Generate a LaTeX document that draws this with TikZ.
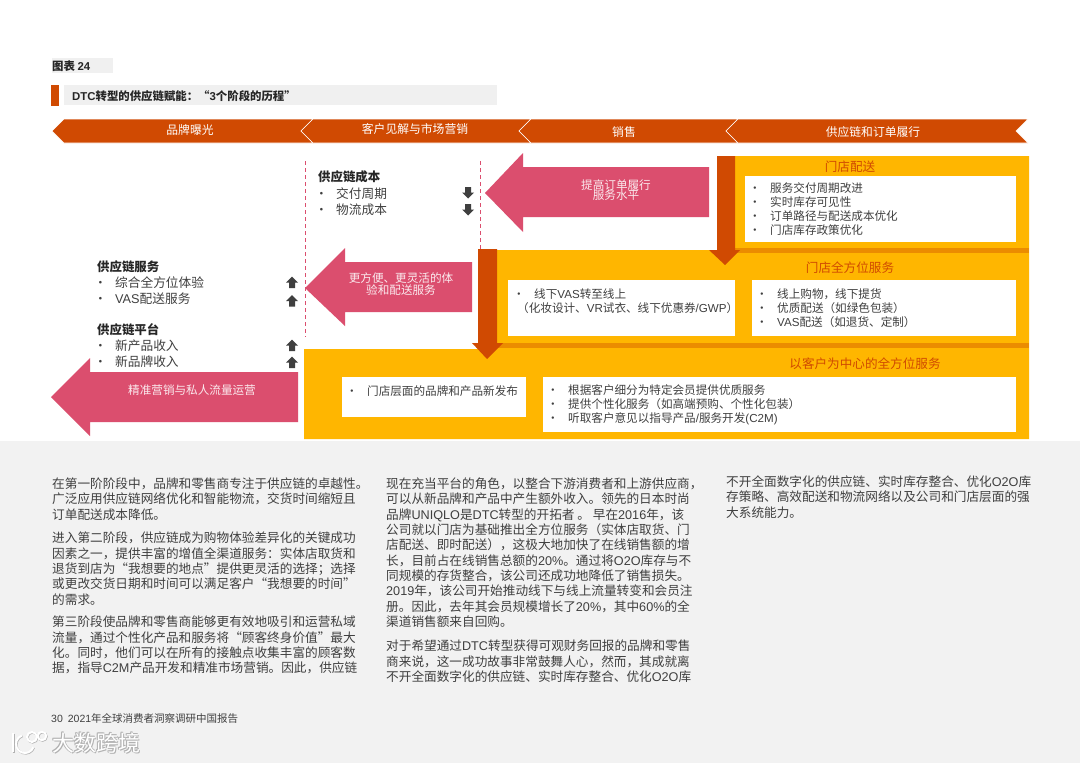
\documentclass[tikz,border=0pt]{standalone}
\usepackage{fontspec}
\setmainfont{Noto Sans CJK SC}
\newfontfamily\latfont{Liberation Sans}
\usepackage{xcolor}
\usetikzlibrary{positioning}
\definecolor{bandorange}{HTML}{D04A02}
\definecolor{stripeorange}{HTML}{EB8C00}
\definecolor{amber}{HTML}{FFB600}
\definecolor{rosefill}{HTML}{DB4E6E}
\definecolor{inkgray}{HTML}{3F3F3F}
\definecolor{pagegray}{HTML}{F2F2F2}
\definecolor{titlegray}{HTML}{F0F0F0}
\tikzset{
  bandtext/.style={text=white, inner sep=0pt, font=\fontsize{11.8}{14}\selectfont},
  rosetext/.style={text=white!88!rosefill, inner sep=0pt, align=center, font=\fontsize{11.6}{10.8}\selectfont},
  headtext/.style={text=bandorange, inner sep=0pt, font=\fontsize{12.6}{15}\selectfont},
  whitebox/.style={fill=white, draw=none},
  listtext/.style={anchor=west, inner sep=0pt, align=left, text=inkgray, font=\fontsize{11.6}{14}\selectfont},
  sidelist/.style={anchor=west, inner sep=0pt, align=left, text=inkgray, font=\fontsize{12.7}{16}\selectfont},
  sidehead/.style={anchor=west, inner sep=0pt, text=black!85, font=\fontsize{12.4}{15}\selectfont\bfseries},
  bodytext/.style={anchor=north west, inner sep=0pt, align=left, text=inkgray, font=\fontsize{12.65}{15.35}\selectfont},
  titletext/.style={anchor=west, inner sep=0pt, text=black!85, font=\fontsize{11.4}{13}\selectfont\bfseries},
  divider/.style={rosefill, dash pattern=on 4pt off 3pt, line width=1pt}
}
\newcommand{\itm}{\makebox[21pt][l]{\textbullet}}
\newcommand{\la}[1]{{\latfont #1}}
\begin{document}
\begin{tikzpicture}[x=1pt,y=-1pt]
  \useasboundingbox (0,0) rectangle (1080,763);
  \fill[white] (0,0) rectangle (1080,441);
  \fill[pagegray] (0,441) rectangle (1080,763);

  \fill[titlegray] (52,58) rectangle (113,73);
  \node[titletext] (figno) at (52,66) {图表 \la{24}};
  \fill[bandorange] (51,85) rectangle (59,106);
  \fill[titlegray] (64,85) rectangle (497,105);
  \node[titletext] (figtitle) at (72,96) {\la{DTC}转型的供应链赋能：“\la{3}个阶段的历程”};

  \foreach \xa/\xb in {52/301,301/519,519/726}
    \filldraw[fill=bandorange, draw=white, line width=0.6pt] (\xa,131) -- (\xa+12,119) -- (\xb+12,119) -- (\xb,131) -- (\xb+12,143) -- (\xa+12,143) -- cycle;
  \filldraw[fill=bandorange, draw=white, line width=0.6pt] (726,131) -- (738,119) -- (1028,119) -- (1016,131) -- (1028,143) -- (738,143) -- cycle;
  \node[bandtext] (stagea) at (190,130) {品牌曝光};
  \node[bandtext] (stageb) at (415,129) {客户见解与市场营销};
  \node[bandtext] (stagec) at (624,132) {销售};
  \node[bandtext] (staged) at (873,132) {供应链和订单履行};

  \coordinate (dashatop) at (305,161);
  \coordinate (dashabot) at (305,337);
  \coordinate (dashbtop) at (480,161);
  \coordinate (dashbbot) at (480,250);
  \draw[divider] (dashatop) -- (dashabot);
  \draw[divider] (dashbtop) -- (dashbbot);

  \fill[amber] (717,156) -- (1029,156) -- (1029,439) -- (304,439) -- (304,349) -- (478,349) -- (478,250) -- (717,250) -- cycle;
  \fill[stripeorange] (735,248) rectangle (1029,253);
  \fill[stripeorange] (497,343) rectangle (1029,348);
  \fill[bandorange] (717,156) -- (735,156) -- (735,250) -- (740,250) -- (725,265) -- (709,250) -- (717,250) -- cycle;
  \fill[bandorange] (478,249) -- (497,249) -- (497,343) -- (503,343) -- (487,359) -- (472,343) -- (478,343) -- cycle;

  \fill[rosefill] (485,193) -- (523,153) -- (523,167) -- (709,167) -- (709,217) -- (523,217) -- (523,232) -- cycle;
  \fill[rosefill] (305,288) -- (345,248) -- (345,262) -- (472,262) -- (472,312) -- (345,312) -- (345,326) -- cycle;
  \fill[rosefill] (51,397) -- (90,358) -- (90,372) -- (298,372) -- (298,422) -- (90,422) -- (90,436) -- cycle;
  \node[rosetext] (ordertext) at (616,190) {提高订单履行\\服务水平};
  \node[rosetext] (easetext) at (401,284) {更方便、更灵活的体\\验和配送服务};
  \node[rosetext] (traffictext) at (192,390) {精准营销与私人流量运营};

  \fill[whitebox] (745,176) rectangle (1016,242);
  \fill[whitebox] (508,280) rectangle (735,336);
  \fill[whitebox] (752,280) rectangle (1016,336);
  \fill[whitebox] (342,377) rectangle (526,417);
  \fill[whitebox] (543,377) rectangle (1016,432);

  \node[headtext] (storeship) at (850,167) {门店配送};
  \node[headtext] (storeall) at (850,268) {门店全方位服务};
  \node[headtext] (custall) at (865,364) {以客户为中心的全方位服务};

  \node[listtext] (listship) at (749,209.5) {\itm 服务交付周期改进\\\itm 实时库存可见性\\\itm 订单路径与配送成本优化\\\itm 门店库存政策优化};
  \node[listtext] (listvas) at (513,301) {\itm 线下\la{VAS}转至线上\\\hspace*{4pt}（化妆设计、\la{VR}试衣、线下优惠券\la{/GWP}）};
  \node[listtext] (listpick) at (756,308) {\itm 线上购物，线下提货\\\itm 优质配送（如绿色包装）\\\itm \la{VAS}配送（如退货、定制）};
  \node[listtext] (listlaunch) at (346,391) {\itm 门店层面的品牌和产品新发布};
  \node[listtext] (listcust) at (547,405) {\itm 根据客户细分为特定会员提供优质服务\\\itm 提供个性化服务（如高端预购、个性化包装）\\\itm 听取客户意见以指导产品\la{/}服务开发\la{(C2M)}};

  \node[sidehead] (costhead) at (318,177) {供应链成本};
  \node[sidelist] (costlist) at (315,202) {\itm 交付周期\\\itm 物流成本};
  \node[sidehead] (servhead) at (97,267) {供应链服务};
  \node[sidelist] (servlist) at (94,291) {\itm 综合全方位体验\\\itm \la{VAS}配送服务};
  \node[sidehead] (plathead) at (97,330) {供应链平台};
  \node[sidelist] (platlist) at (94,353.5) {\itm 新产品收入\\\itm 新品牌收入};

  \foreach \ypos in {192.5,209.5}
    \fill[inkgray] (468,\ypos+6) -- (474,\ypos) -- (471,\ypos) -- (471,\ypos-5.5) -- (465,\ypos-5.5) -- (465,\ypos) -- (462,\ypos) -- cycle;
  \foreach \ypos in {282.5,301,345.5,362.5}
    \fill[inkgray] (292,\ypos-6) -- (298,\ypos) -- (295,\ypos) -- (295,\ypos+5.5) -- (289,\ypos+5.5) -- (289,\ypos) -- (286,\ypos) -- cycle;

  \node[bodytext] (parta) at (52,477.5) {在第一阶阶段中，品牌和零售商专注于供应链的卓越性。\\广泛应用供应链网络优化和智能物流，交货时间缩短且\\订单配送成本降低。};
  \node[bodytext] (partb) at (52,532) {进入第二阶段，供应链成为购物体验差异化的关键成功\\因素之一，提供丰富的增值全渠道服务：实体店取货和\\退货到店为“我想要的地点”提供更灵活的选择；选择\\或更改交货日期和时间可以满足客户“我想要的时间”\\的需求。};
  \node[bodytext] (partc) at (52,616) {第三阶段使品牌和零售商能够更有效地吸引和运营私域\\流量，通过个性化产品和服务将“顾客终身价值”最大\\化。同时，他们可以在所有的接触点收集丰富的顾客数\\据，指导\la{C2M}产品开发和精准市场营销。因此，供应链};
  \node[bodytext] (partd) at (386,477.5) {现在充当平台的角色，以整合下游消费者和上游供应商，\\可以从新品牌和产品中产生额外收入。领先的日本时尚\\品牌\la{UNIQLO}是\la{DTC}转型的开拓者 。 早在\la{2016}年，该\\公司就以门店为基础推出全方位服务（实体店取货、门\\店配送、即时配送），这极大地加快了在线销售额的增\\长，目前占在线销售总额的\la{20\%}。通过将\la{O2O}库存与不\\同规模的存货整合，该公司还成功地降低了销售损失。\\\la{2019}年，该公司开始推动线下与线上流量转变和会员注\\册。因此，去年其会员规模增长了\la{20\%}，其中\la{60\%}的全\\渠道销售额来自回购。};
  \node[bodytext] (parte) at (386,640) {对于希望通过\la{DTC}转型获得可观财务回报的品牌和零售\\商来说，这一成功故事非常鼓舞人心，然而，其成就离\\不开全面数字化的供应链、实时库存整合、优化\la{O2O}库};
  \node[bodytext] (partf) at (726,475.5) {不开全面数字化的供应链、实时库存整合、优化\la{O2O}库\\存策略、高效配送和物流网络以及公司和门店层面的强\\大系统能力。};

  \node[anchor=west, inner sep=0pt, text=inkgray, font=\fontsize{10.5}{12}\selectfont] (footer) at (51,718) {\la{30}\hspace{5pt}\la{2021}年全球消费者洞察调研中国报告};

  \begin{scope}[line width=2pt]
    \draw[black!30] (13.6,733.6) -- (13.6,752.6);
    \draw[black!30] (25.6,744.6) ++(20:9) arc (20:250:9);
    \draw[black!30] (32.6,737.6) circle (5);
    \draw[black!30] (42.6,736.6) circle (4.2);
    \draw[white] (13,733) -- (13,752);
    \draw[white] (25,744) ++(20:9) arc (20:250:9);
    \draw[white] (32,737) circle (5);
    \draw[white] (42,736) circle (4.2);
  \end{scope}
  \foreach \dx/\dy [count=\i] in {0.8/0.8,-0.6/0.6,0.6/-0.6,-0.6/-0.6}
    \node[anchor=west, inner sep=0pt, text=black!30, font=\fontsize{22}{24}\selectfont] (markshade\i) at (52+\dx,743+\dy) {大数跨境};
  \node[anchor=west, inner sep=0pt, text=white, font=\fontsize{22}{24}\selectfont] (mark) at (52,743) {大数跨境};
\end{tikzpicture}
\end{document}
